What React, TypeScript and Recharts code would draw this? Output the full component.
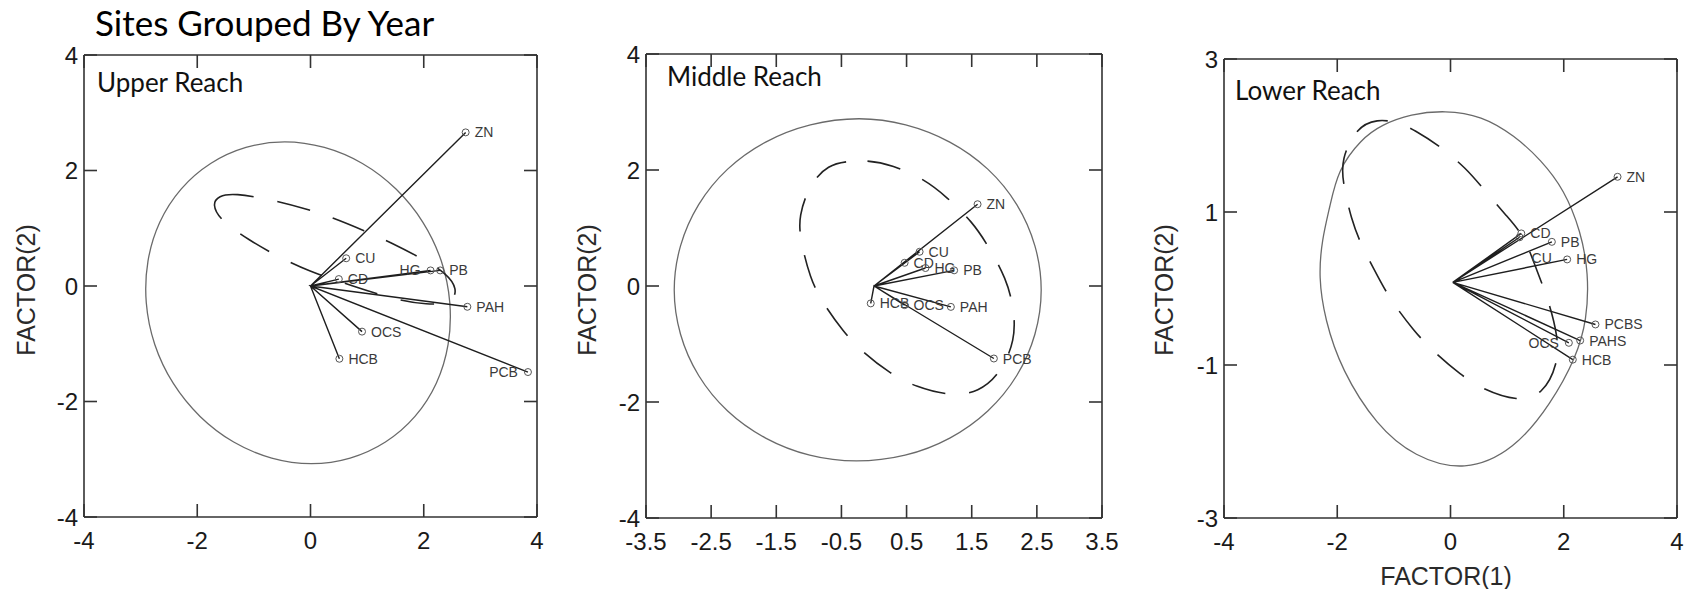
import { Scatter, ScatterChart, XAxis, YAxis } from 'recharts'

type Pt = { x: number; y: number }
type Vec = { name: string; x: number; y: number }

// ---- Upper reach ----
const upperOrigin: Pt = { x: 0, y: 0 }
const upperVectors: Vec[] = [
  { name: 'ZN', x: 2.74, y: 2.66 },
  { name: 'CU', x: 0.63, y: 0.48 },
  { name: 'CD', x: 0.5, y: 0.12 },
  { name: 'HG', x: 2.12, y: 0.27 },
  { name: 'PB', x: 2.29, y: 0.27 },
  { name: 'PAH', x: 2.77, y: -0.36 },
  { name: 'OCS', x: 0.91, y: -0.79 },
  { name: 'HCB', x: 0.51, y: -1.26 },
  { name: 'PCB', x: 3.84, y: -1.49 },
]
const upperEllipse: Pt[] = [
  { x: 2.49, y: -0.29 }, { x: 2.34, y: 0.44 }, { x: 2.01, y: 1.12 }, { x: 1.53, y: 1.7 },
  { x: 0.93, y: 2.15 }, { x: 0.25, y: 2.43 }, { x: -0.46, y: 2.53 }, { x: -1.15, y: 2.43 },
  { x: -1.78, y: 2.15 }, { x: -2.31, y: 1.7 }, { x: -2.69, y: 1.12 }, { x: -2.9, y: 0.44 },
  { x: -2.93, y: -0.29 }, { x: -2.78, y: -1.02 }, { x: -2.45, y: -1.7 }, { x: -1.97, y: -2.28 },
  { x: -1.37, y: -2.73 }, { x: -0.69, y: -3.01 }, { x: 0.02, y: -3.11 }, { x: 0.71, y: -3.01 },
  { x: 1.34, y: -2.73 }, { x: 1.87, y: -2.28 }, { x: 2.25, y: -1.7 }, { x: 2.46, y: -1.02 },
]
const upperDashed: Pt[] = [
  { x: -1.74, y: 1.42 }, { x: -1.62, y: 1.56 }, { x: -1.36, y: 1.61 }, { x: -0.65, y: 1.49 },
  { x: -0.06, y: 1.33 }, { x: 0.38, y: 1.19 }, { x: 0.97, y: 0.95 }, { x: 1.41, y: 0.76 },
  { x: 2.0, y: 0.46 }, { x: 2.4, y: 0.22 }, { x: 2.6, y: -0.05 }, { x: 2.5, y: -0.3 },
  { x: 2.07, y: -0.33 }, { x: 1.47, y: -0.23 }, { x: 0.75, y: 0.0 }, { x: -0.05, y: 0.26 },
  { x: -0.65, y: 0.55 }, { x: -1.06, y: 0.78 }, { x: -1.59, y: 1.13 },
]
const upperXTicks = [-4, -2, 0, 2, 4]
const upperYTicks = [-4, -2, 0, 2, 4]

// ---- Middle reach ----
const middleOrigin: Pt = { x: 0, y: 0 }
const middleVectors: Vec[] = [
  { name: 'ZN', x: 1.59, y: 1.41 },
  { name: 'CU', x: 0.7, y: 0.59 },
  { name: 'CD', x: 0.47, y: 0.4 },
  { name: 'HG', x: 0.79, y: 0.31 },
  { name: 'PB', x: 1.23, y: 0.27 },
  { name: 'HCB', x: -0.05, y: -0.3 },
  { name: 'OCS', x: 0.47, y: -0.33 },
  { name: 'PAH', x: 1.18, y: -0.36 },
  { name: 'PCB', x: 1.84, y: -1.25 },
]
const middleEllipse: Pt[] = [
  { x: 2.6, y: -0.07 }, { x: 2.5, y: 0.7 }, { x: 2.22, y: 1.42 }, { x: 1.77, y: 2.04 },
  { x: 1.18, y: 2.51 }, { x: 0.49, y: 2.81 }, { x: -0.22, y: 2.92 }, { x: -0.99, y: 2.81 },
  { x: -1.68, y: 2.51 }, { x: -2.27, y: 2.04 }, { x: -2.72, y: 1.42 }, { x: -3.0, y: 0.7 },
  { x: -3.1, y: -0.07 }, { x: -3.0, y: -0.84 }, { x: -2.72, y: -1.56 }, { x: -2.27, y: -2.18 },
  { x: -1.68, y: -2.65 }, { x: -0.99, y: -2.95 }, { x: -0.28, y: -3.05 }, { x: 0.49, y: -2.95 },
  { x: 1.18, y: -2.65 }, { x: 1.77, y: -2.18 }, { x: 2.22, y: -1.56 }, { x: 2.5, y: -0.84 },
]
const middleDashed: Pt[] = [
  { x: -0.4, y: 2.15 }, { x: -0.12, y: 2.17 }, { x: 0.28, y: 2.09 }, { x: 0.79, y: 1.83 },
  { x: 1.11, y: 1.54 }, { x: 1.51, y: 1.11 }, { x: 1.76, y: 0.68 }, { x: 2.03, y: 0.13 },
  { x: 2.15, y: -0.39 }, { x: 2.17, y: -0.93 }, { x: 1.94, y: -1.51 }, { x: 1.61, y: -1.83 },
  { x: 1.18, y: -1.9 }, { x: 0.64, y: -1.74 }, { x: 0.26, y: -1.52 }, { x: -0.18, y: -1.14 },
  { x: -0.47, y: -0.79 }, { x: -0.8, y: -0.27 }, { x: -0.98, y: 0.13 }, { x: -1.13, y: 0.79 },
  { x: -1.16, y: 1.2 }, { x: -0.98, y: 1.77 }, { x: -0.7, y: 2.09 },
]
const middleXTicks = [-3.5, -2.5, -1.5, -0.5, 0.5, 1.5, 2.5, 3.5]
const middleYTicks = [-4, -2, 0, 2, 4]

// ---- Lower reach ----
const lowerOrigin: Pt = { x: 0.04, y: 0.08 }
const lowerVectors: Vec[] = [
  { name: 'ZN', x: 2.95, y: 1.46 },
  { name: 'CD', x: 1.25, y: 0.72 },
  { name: 'CU', x: 1.22, y: 0.67 },
  { name: 'PB', x: 1.79, y: 0.61 },
  { name: 'HG', x: 2.06, y: 0.38 },
  { name: 'PCBS', x: 2.56, y: -0.47 },
  { name: 'PAHS', x: 2.29, y: -0.68 },
  { name: 'OCS', x: 2.09, y: -0.71 },
  { name: 'HCB', x: 2.16, y: -0.93 },
]
const lowerEllipse: Pt[] = [
  { x: -0.1, y: 2.33 }, { x: 0.55, y: 2.26 }, { x: 1.13, y: 2.0 }, { x: 1.6, y: 1.68 },
  { x: 2.01, y: 1.29 }, { x: 2.3, y: 0.75 }, { x: 2.44, y: 0.2 }, { x: 2.41, y: -0.41 },
  { x: 2.22, y: -0.9 }, { x: 1.78, y: -1.5 }, { x: 1.13, y: -2.11 }, { x: 0.25, y: -2.4 },
  { x: -0.64, y: -2.2 }, { x: -1.3, y: -1.8 }, { x: -1.93, y: -1.06 }, { x: -2.22, y: -0.4 },
  { x: -2.33, y: 0.15 }, { x: -2.27, y: 0.64 }, { x: -2.13, y: 1.07 }, { x: -1.99, y: 1.55 },
  { x: -1.58, y: 1.95 }, { x: -1.22, y: 2.14 }, { x: -0.7, y: 2.28 },
]
const lowerDashed: Pt[] = [
  { x: -1.93, y: 1.68 }, { x: -1.67, y: 2.1 }, { x: -1.3, y: 2.22 }, { x: -0.9, y: 2.17 },
  { x: -0.64, y: 2.07 }, { x: -0.22, y: 1.88 }, { x: 0.28, y: 1.57 }, { x: 0.57, y: 1.31 },
  { x: 1.0, y: 0.94 }, { x: 1.31, y: 0.68 }, { x: 1.54, y: 0.2 }, { x: 1.72, y: -0.13 },
  { x: 1.9, y: -0.63 }, { x: 1.9, y: -0.98 }, { x: 1.63, y: -1.39 }, { x: 1.19, y: -1.48 },
  { x: 0.57, y: -1.32 }, { x: 0.18, y: -1.13 }, { x: -0.31, y: -0.82 }, { x: -0.64, y: -0.56 },
  { x: -1.04, y: -0.17 }, { x: -1.25, y: 0.11 }, { x: -1.58, y: 0.57 }, { x: -1.75, y: 0.9 },
  { x: -1.9, y: 1.38 },
]
const lowerXTicks = [-4, -2, 0, 2, 4]
const lowerYTicks = [-3, -1, 1, 3]

const AXIS_FONT = '"Liberation Sans", Arial, sans-serif'
const TITLE_FONT = 'Lato, "Open Sans", sans-serif'
const INK = '#2a2a2a'
const FRAME = '#333'
const TICK_LEN = 13

const star = (o: Pt, vs: Vec[]) => vs.flatMap((v) => [o, { x: v.x, y: v.y }])
const noDot = () => <g />

// inward tick marks, drawn at the axis line position Recharts hands us
const BottomTick = (props: any) => {
  const { x, y, payload } = props
  return (
    <g>
      <line x1={x} x2={x} y1={y} y2={y - TICK_LEN} stroke={FRAME} strokeWidth={1.6} />
      <text x={x} y={y + 15} dy="0.71em" textAnchor="middle" fontSize={24} fontFamily={AXIS_FONT} fill="#1a1a1a">
        {payload.value}
      </text>
    </g>
  )
}
const LeftTick = (props: any) => {
  const { x, y, payload } = props
  return (
    <g>
      <line x1={x} x2={x + TICK_LEN} y1={y} y2={y} stroke={FRAME} strokeWidth={1.6} />
      <text x={x - 6} y={y} dy="0.36em" textAnchor="end" fontSize={24} fontFamily={AXIS_FONT} fill="#1a1a1a">
        {payload.value}
      </text>
    </g>
  )
}
const TopTick = (props: any) => {
  const { x, y } = props
  return <line x1={x} x2={x} y1={y} y2={y + TICK_LEN} stroke={FRAME} strokeWidth={1.6} />
}
const RightTick = (props: any) => {
  const { x, y } = props
  return <line x1={x} x2={x - TICK_LEN} y1={y} y2={y} stroke={FRAME} strokeWidth={1.6} />
}

function makeEndpoint(left: string[], below: string[]) {
  return (props: any) => {
    const { cx, cy, payload } = props
    const name: string = payload.name
    let tx = cx + 9
    let ty = cy
    let anchor: 'start' | 'end' = 'start'
    if (left.includes(name)) {
      tx = cx - 10
      anchor = 'end'
    }
    if (below.includes(name)) {
      tx = cx + 12
      ty = cy + 21
    }
    return (
      <g>
        <circle cx={cx} cy={cy} r={3.5} fill="none" stroke="#555" strokeWidth={1} />
        <text x={tx} y={ty} textAnchor={anchor} dominantBaseline="central" fontSize={14} fontFamily={AXIS_FONT} fill="#3a3a3a">
          {name}
        </text>
      </g>
    )
  }
}

type PanelProps = {
  left: number
  width: number
  margin: { top: number; right: number; bottom: number; left: number }
  origin: Pt
  vectors: Vec[]
  ellipse: Pt[]
  dashed: Pt[]
  xDomain: [number, number]
  yDomain: [number, number]
  xTicks: number[]
  yTicks: number[]
  labelLeft: string[]
  labelBelow: string[]
}

function Panel(p: PanelProps) {
  const axisLine = { stroke: FRAME, strokeWidth: 1.6 }
  const m = { ...p.margin, top: p.margin.top - 1, right: p.margin.right - 1 }
  return (
    <div style={{ position: 'absolute', left: p.left, top: 0 }}>
      <ScatterChart width={p.width} height={589} margin={m}>
        <XAxis xAxisId="b" type="number" dataKey="x" domain={p.xDomain} ticks={p.xTicks} interval={0}
          height={40} tickSize={0} tickMargin={0} tickLine={false} tick={BottomTick} axisLine={axisLine} />
        <XAxis xAxisId="t" orientation="top" type="number" dataKey="x" domain={p.xDomain} ticks={p.xTicks} interval={0}
          height={1} tickSize={0} tickMargin={0} tickLine={false} tick={TopTick} axisLine={axisLine} />
        <YAxis yAxisId="l" type="number" dataKey="y" domain={p.yDomain} ticks={p.yTicks} interval={0}
          width={60} tickSize={0} tickMargin={0} tickLine={false} tick={LeftTick} axisLine={axisLine} />
        <YAxis yAxisId="r" orientation="right" type="number" dataKey="y" domain={p.yDomain} ticks={p.yTicks} interval={0}
          width={1} tickSize={0} tickMargin={0} tickLine={false} tick={RightTick} axisLine={axisLine} />
        <Scatter xAxisId="t" yAxisId="r" data={p.vectors} shape={noDot} isAnimationActive={false} />
        <Scatter xAxisId="b" yAxisId="l" data={p.ellipse} shape={noDot} isAnimationActive={false}
          line={{ stroke: '#6a6a6a', strokeWidth: 1.3, fill: 'none' }} lineJointType="basisClosed" />
        <Scatter xAxisId="b" yAxisId="l" data={p.dashed} shape={noDot} isAnimationActive={false}
          line={{ stroke: '#222', strokeWidth: 1.6, strokeDasharray: '34 24', fill: 'none' }} lineJointType="basisClosed" />
        <Scatter xAxisId="b" yAxisId="l" data={star(p.origin, p.vectors)} shape={noDot} isAnimationActive={false}
          line={{ stroke: '#1e1e1e', strokeWidth: 1.4 }} lineJointType="linear" />
        <Scatter xAxisId="b" yAxisId="l" data={p.vectors} shape={makeEndpoint(p.labelLeft, p.labelBelow)} isAnimationActive={false} />
      </ScatterChart>
    </div>
  )
}

export default function App() {
  return (
    <div style={{ position: 'absolute', left: 0, top: 0, width: 1690, height: 589, background: '#fff', overflow: 'hidden' }}>
      <Panel left={0} width={560} margin={{ top: 55, right: 23, bottom: 32, left: 24 }}
        origin={upperOrigin} vectors={upperVectors} ellipse={upperEllipse} dashed={upperDashed}
        xDomain={[-4, 4]} yDomain={[-4, 4]} xTicks={upperXTicks} yTicks={upperYTicks}
        labelLeft={['HG', 'PCB']} labelBelow={[]} />
      <Panel left={580} width={560} margin={{ top: 54, right: 38, bottom: 31, left: 6 }}
        origin={middleOrigin} vectors={middleVectors} ellipse={middleEllipse} dashed={middleDashed}
        xDomain={[-3.5, 3.5]} yDomain={[-4, 4]} xTicks={middleXTicks} yTicks={middleYTicks}
        labelLeft={[]} labelBelow={[]} />
      <Panel left={1140} width={550} margin={{ top: 59, right: 13, bottom: 31, left: 24 }}
        origin={lowerOrigin} vectors={lowerVectors} ellipse={lowerEllipse} dashed={lowerDashed}
        xDomain={[-4, 4]} yDomain={[-3, 3]} xTicks={lowerXTicks} yTicks={lowerYTicks}
        labelLeft={['OCS']} labelBelow={['CU']} />
      <svg width={1690} height={589} style={{ position: 'absolute', left: 0, top: 0, pointerEvents: 'none' }}>
        <text x={95} y={36} fontFamily={TITLE_FONT} fontSize={35} fill="#000">Sites Grouped By Year</text>
        <text x={97} y={92} fontFamily={TITLE_FONT} fontSize={26} fill="#111">Upper Reach</text>
        <text x={667} y={86} fontFamily={TITLE_FONT} fontSize={26} fill="#111">Middle Reach</text>
        <text x={1235} y={100} fontFamily={TITLE_FONT} fontSize={26} fill="#111">Lower Reach</text>
        <text x={1446} y={585} textAnchor="middle" fontFamily={AXIS_FONT} fontSize={25} fill={INK}>FACTOR(1)</text>
        {[26, 587, 1164].map((cx) => (
          <text key={cx} x={cx} y={290} textAnchor="middle" dominantBaseline="central" transform={`rotate(-90 ${cx} 290)`}
            fontFamily={AXIS_FONT} fontSize={25} fill={INK}>FACTOR(2)</text>
        ))}
      </svg>
    </div>
  )
}
